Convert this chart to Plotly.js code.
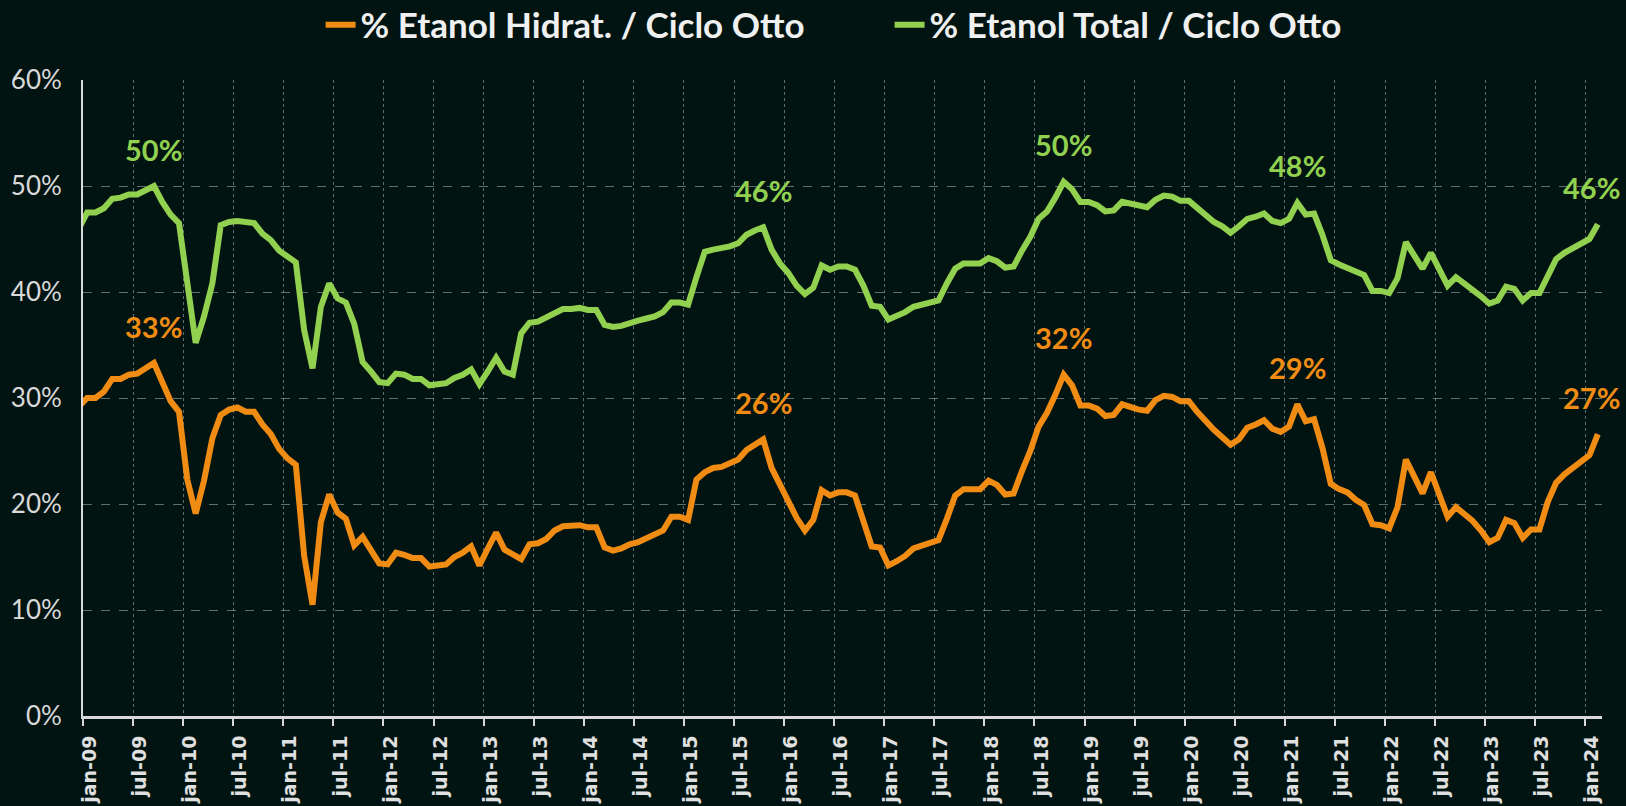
<!DOCTYPE html>
<html>
<head>
<meta charset="utf-8">
<script src="https://cdn.plot.ly/plotly-3.0.1.min.js"></script>
<style>
  html, body { margin: 0; padding: 0; background: #011412; }
  #chart { width: 1626px; height: 806px; }
</style>
</head>
<body>
<div id="chart"></div>
<script>
// Monthly series, dez-08 (first, clipped at the axis) through fev-24
const seriesNames = ['% Etanol Hidrat. / Ciclo Otto', '% Etanol Total / Ciclo Otto'];

const hidratado = [
  29.2,
  30.0, 30.0, 30.6, 31.8, 31.8, 32.2, 32.3, 32.8, 33.3, 31.5, 29.7, 28.7,
  22.3, 19.1, 22.2, 26.2, 28.4, 28.9, 29.1, 28.7, 28.7, 27.5, 26.6, 25.2,
  24.3, 23.7, 15.1, 10.5, 18.3, 20.9, 19.2, 18.6, 16.1, 16.9, 15.6, 14.4,
  14.3, 15.4, 15.2, 14.9, 14.9, 14.1, 14.2, 14.3, 15.0, 15.4, 16.0, 14.2,
  15.8, 17.3, 15.7, 15.3, 14.8, 16.2, 16.3, 16.7, 17.5, 17.9, 17.9, 18.0,
  17.8, 17.8, 15.9, 15.6, 15.8, 16.2, 16.4, 16.8, 17.1, 17.5, 18.8, 18.8,
  18.5, 22.3, 23.0, 23.4, 23.5, 23.8, 24.2, 25.1, 25.6, 26.1, 23.4, 21.8,
  20.4, 18.7, 17.5, 18.5, 21.3, 20.8, 21.1, 21.1, 20.8, 18.6, 16.0, 15.9,
  14.2, 14.6, 15.1, 15.8, 16.1, 16.3, 16.6, 18.6, 20.8, 21.4, 21.4, 21.4,
  22.2, 21.8, 20.9, 21.0, 23.1, 25.0, 27.3, 28.6, 30.3, 32.2, 31.2, 29.3,
  29.3, 29.0, 28.3, 28.4, 29.4, 29.1, 28.9, 28.8, 29.8, 30.2, 30.1, 29.7,
  29.7, 28.7, 27.8, 27.0, 26.3, 25.6, 26.1, 27.2, 27.5, 27.9, 27.1, 26.8,
  27.3, 29.4, 27.8, 28.0, 25.3, 21.9, 21.4, 21.1, 20.4, 19.9, 18.1, 18.0,
  17.7, 19.7, 24.2, 22.7, 21.0, 23.0, 20.8, 18.8, 19.7, 19.1, 18.4, 17.5,
  16.4, 16.8, 18.5, 18.2, 16.8, 17.6, 17.6, 20.2, 22.0, 22.8, 23.4, 23.9,
  24.6, 26.6
];

const total = [
  46.0,
  47.5, 47.5, 47.9, 48.8, 48.9, 49.2, 49.2, 49.6, 50.0, 48.5, 47.3, 46.5,
  41.0, 35.2, 37.7, 40.8, 46.3, 46.6, 46.7, 46.6, 46.5, 45.5, 44.9, 43.9,
  43.3, 42.8, 36.4, 32.8, 38.6, 40.8, 39.4, 39.0, 37.0, 33.4, 32.5, 31.5,
  31.4, 32.3, 32.2, 31.8, 31.8, 31.2, 31.3, 31.4, 31.9, 32.2, 32.7, 31.3,
  32.5, 33.8, 32.5, 32.2, 36.1, 37.1, 37.2, 37.6, 38.1, 38.4, 38.4, 38.5,
  38.3, 38.3, 36.9, 36.7, 36.8, 37.1, 37.3, 37.5, 37.7, 38.1, 39.0, 39.0,
  38.8, 41.4, 43.8, 44.0, 44.1, 44.3, 44.6, 45.4, 45.8, 46.1, 44.0, 42.7,
  41.8, 40.6, 39.8, 40.4, 42.5, 42.1, 42.4, 42.4, 42.1, 40.6, 38.7, 38.6,
  37.4, 37.7, 38.1, 38.6, 38.8, 38.9, 39.2, 40.8, 42.2, 42.7, 42.7, 42.7,
  43.2, 42.9, 42.3, 42.4, 43.9, 45.2, 46.9, 47.6, 48.9, 50.4, 49.7, 48.5,
  48.5, 48.2, 47.6, 47.7, 48.5, 48.3, 48.1, 48.0, 48.7, 49.1, 49.0, 48.6,
  48.6, 47.9, 47.2, 46.6, 46.2, 45.6, 46.2, 46.9, 47.1, 47.4, 46.7, 46.5,
  46.9, 48.4, 47.3, 47.4, 45.4, 43.0, 42.6, 42.3, 41.9, 41.6, 40.1, 40.1,
  39.9, 41.3, 44.7, 43.5, 42.2, 43.7, 42.1, 40.6, 41.4, 40.8, 40.3, 39.6,
  38.9, 39.2, 40.5, 40.3, 39.2, 39.9, 39.9, 41.6, 43.1, 43.7, 44.1, 44.5,
  45.0, 46.4
];

const tickLabels = [
  'jan-09','jul-09','jan-10','jul-10','jan-11','jul-11','jan-12','jul-12',
  'jan-13','jul-13','jan-14','jul-14','jan-15','jul-15','jan-16','jul-16',
  'jan-17','jul-17','jan-18','jul-18','jan-19','jul-19','jan-20','jul-20',
  'jan-21','jul-21','jan-22','jul-22','jan-23','jul-23','jan-24'
];

// indices (in the arrays above) of the labelled points
const labelIdx = [9, 82, 118, 146, 182];

const colors = ['#f08c14', '#92d050'];

// x: month slot centre; first array entry is dez-08 (slot -1)
const xs = hidratado.map((_, i) => i - 0.5);
const tickVals = tickLabels.map((_, i) => i * 6);

const traces = [hidratado, total].map((vals, s) => ({
  x: xs, y: vals, type: 'scatter', mode: 'lines', name: seriesNames[s],
  line: { color: colors[s], width: 6, shape: 'linear' },
  hoverinfo: 'skip'
}));

const annotations = [];
[hidratado, total].forEach((vals, s) => {
  labelIdx.forEach((i, j) => {
    annotations.push({
      x: xs[i], y: vals[i], xref: 'x', yref: 'y',
      text: Math.round(vals[i]) + '%', showarrow: false,
      yshift: 37, xshift: j === labelIdx.length - 1 ? -6 : 0,
      yanchor: 'middle', xanchor: 'center',
      font: { family: 'Lato, "Open Sans", sans-serif', size: 29, color: colors[s], weight: 'bold' }
    });
  });
});

const layout = {
  width: 1626, height: 806,
  paper_bgcolor: '#011412', plot_bgcolor: '#011412',
  margin: { l: 83, r: 24, t: 80, b: 90, autoexpand: false },
  showlegend: true,
  legend: {
    orientation: 'h', x: 0.531, xanchor: 'center', y: 1.0865, yanchor: 'middle',
    font: { family: 'Lato, "Open Sans", sans-serif', size: 35, color: '#f0f0f0', weight: 'bold' },
    bgcolor: 'rgba(0,0,0,0)', itemclick: false, traceorder: 'normal',
    entrywidth: 524, entrywidthmode: 'pixels'
  },
  xaxis: {
    type: 'linear', range: [0, 182], tickmode: 'array',
    tickvals: tickVals, ticktext: tickLabels, tickangle: -90,
    ticks: 'outside', ticklen: 7, tickwidth: 2, tickcolor: '#d9d9d9',
    ticklabelshift: 7, ticklabelstandoff: 2,
    tickfont: { family: '"DejaVu Sans", sans-serif', size: 19, color: '#e0e0e0', weight: 'bold' },
    showline: true, linecolor: '#d9d9d9', linewidth: 3,
    showgrid: true, gridcolor: 'rgba(170,185,185,0.55)', griddash: 'dot', gridwidth: 1,
    zeroline: false, fixedrange: true
  },
  yaxis: {
    range: [0, 60], dtick: 10, tick0: 0, ticksuffix: '%',
    ticks: '', ticklabelstandoff: 14,
    tickfont: { family: 'Lato, "Open Sans", sans-serif', size: 26, color: '#d9d9d9' },
    showline: true, linecolor: '#d9d9d9', linewidth: 2,
    showgrid: true, gridcolor: 'rgba(170,185,185,0.55)', griddash: 'dash', gridwidth: 1,
    zeroline: false, fixedrange: true
  },
  annotations: annotations
};

Plotly.newPlot('chart', traces, layout, { displayModeBar: false, staticPlot: true });
</script>
</body>
</html>
